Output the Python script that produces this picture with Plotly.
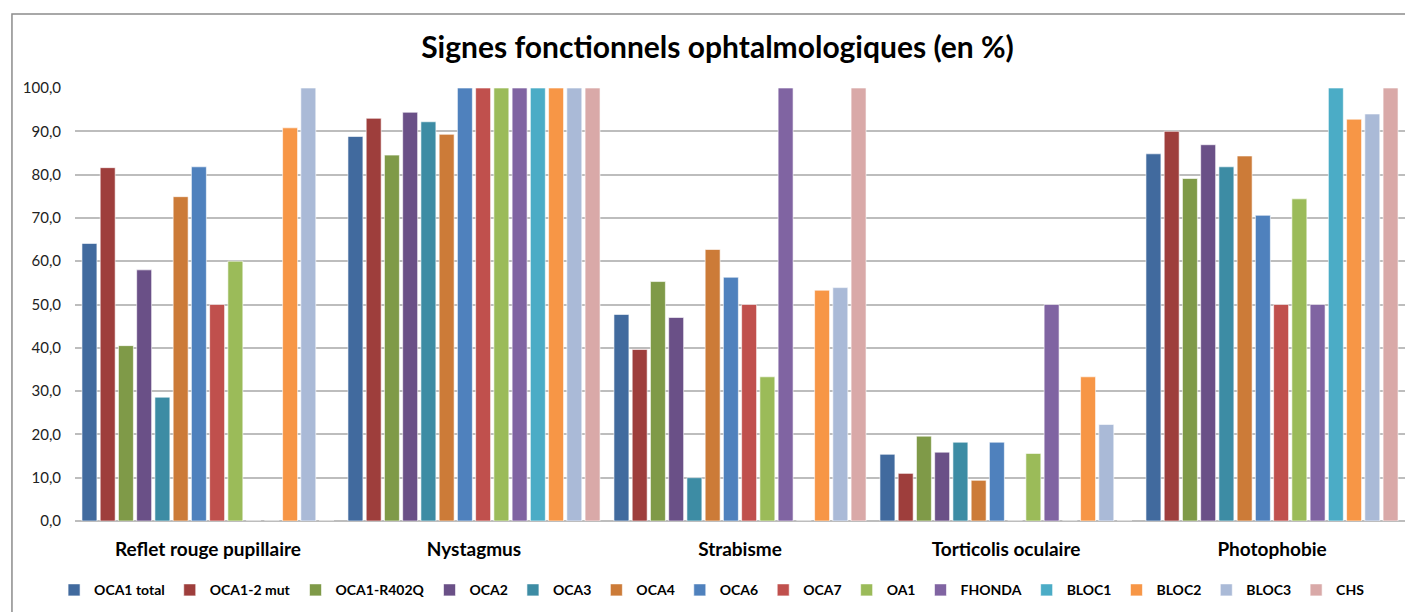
import plotly.graph_objects as go

categories = ["Reflet rouge pupillaire", "Nystagmus", "Strabisme", "Torticolis oculaire", "Photophobie"]

series_names = ["OCA1 total", "OCA1-2 mut", "OCA1-R402Q", "OCA2", "OCA3", "OCA4", "OCA6",
                "OCA7", "OA1", "FHONDA", "BLOC1", "BLOC2", "BLOC3", "CHS"]

oca1_total = [64.1, 88.8, 47.7, 15.4, 84.8]
oca1_2_mut = [81.6, 93.0, 39.6, 11.0, 90.0]
oca1_r402q = [40.5, 84.5, 55.3, 19.6, 79.1]
oca2 = [58.0, 94.4, 47.0, 15.9, 86.9]
oca3 = [28.6, 92.2, 10.0, 18.2, 81.8]
oca4 = [74.9, 89.3, 62.7, 9.4, 84.3]
oca6 = [81.8, 100, 56.3, 18.2, 70.6]
oca7 = [50.0, 100, 50.0, 0, 50.0]
oa1 = [60.0, 100, 33.3, 15.6, 74.4]
fhonda = [0, 100, 100, 50.0, 50.0]
bloc1 = [0, 100, 0, 0, 100]
bloc2 = [90.8, 100, 53.3, 33.3, 92.8]
bloc3 = [100, 100, 53.9, 22.3, 94.0]
chs = [0, 100, 100, 0, 100]

series_values = [oca1_total, oca1_2_mut, oca1_r402q, oca2, oca3, oca4, oca6,
                 oca7, oa1, fhonda, bloc1, bloc2, bloc3, chs]

colors = ["#416A9E", "#9E3E3C", "#7F9A48", "#6A5087", "#3D8CA4", "#CC7B38", "#4F81BD",
          "#C0504D", "#9BBB59", "#8064A2", "#4BACC6", "#F79646", "#AABAD7", "#D9A9A8"]

fig = go.Figure()
for name, vals, col in zip(series_names, series_values, colors):
    fig.add_trace(
        go.Bar(
            name=name,
            x=categories,
            y=vals,
            marker=dict(color=col, line=dict(color="rgba(255,255,255,0.6)", width=1)),
        )
    )

# page has an 8px body margin, so the figure is sized 8px smaller
fig.update_layout(
    width=1405,
    height=604,
    barmode="group",
    bargap=0.04,
    bargroupgap=0.18,
    paper_bgcolor="white",
    plot_bgcolor="white",
    margin={"l": 67, "r": 8, "t": 80, "b": 91, "autoexpand": False},
    font=dict(family="Lato", color="#000000"),
    separators=",.",
    title=dict(
        text="<b>Signes fonctionnels ophtalmologiques (en %)</b>",
        x=0.505,
        xanchor="center",
        y=0.934,
        yanchor="middle",
        font=dict(size=30, color="#000000"),
    ),
    legend=dict(
        orientation="h",
        x=0.479,
        xanchor="center",
        y=-0.16,
        yanchor="middle",
        font=dict(size=14, color="#000000", weight="bold"),
        itemwidth=30,
        tracegroupgap=0,
    ),
    yaxis=dict(
        range=[0, 100],
        dtick=10,
        tickformat=".1f",
        showgrid=True,
        gridcolor="#BDBDBD",
        gridwidth=1.5,
        zeroline=True,
        zerolinecolor="#BDBDBD",
        zerolinewidth=1.5,
        tickfont=dict(size=15, color="#222222"),
        ticks="outside",
        ticklen=10,
        tickcolor="rgba(0,0,0,0)",
    ),
    xaxis=dict(
        tickfont=dict(size=19, color="#000000", weight="bold"),
        showline=False,
        ticks="outside",
        ticklen=11,
        tickcolor="rgba(0,0,0,0)",
    ),
    shapes=[
        dict(type="rect", xref="paper", yref="paper",
             x0=-0.0474, x1=1.005, y0=-0.3, y1=1.171,
             line=dict(color="#8C8C8C", width=1.5), fillcolor="rgba(0,0,0,0)", layer="below")
    ],
)

fig.write_html("out.html")
